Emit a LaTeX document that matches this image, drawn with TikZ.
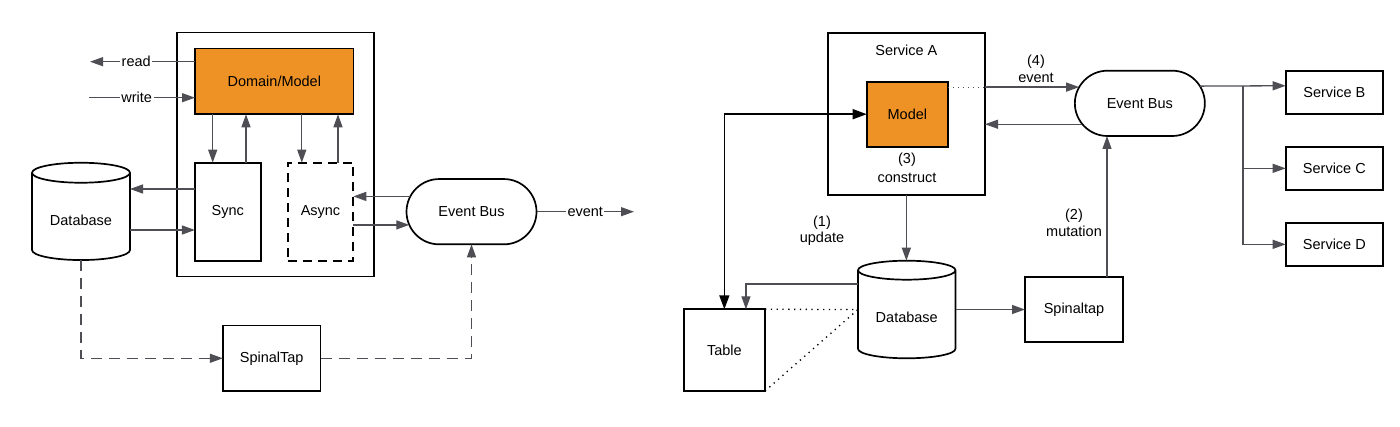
\documentclass[tikz,border=0pt]{standalone}
\usepackage{fontspec}
\setmainfont{Liberation Sans}
\usetikzlibrary{arrows.meta,positioning,shapes.misc}
\definecolor{orng}{RGB}{238,146,38}
\definecolor{lgray}{RGB}{78,78,84}

\begin{document}
\begin{tikzpicture}[x=1pt, y=-1pt, font=\fontsize{14.5}{16.5}\selectfont,
    box/.style={draw=black, line width=1.7pt, inner sep=0pt, outer sep=0pt},
    bus/.style={rounded rectangle, draw=black, line width=1.7pt, inner sep=0pt, outer sep=0pt,
      minimum width=130pt, minimum height=65.3pt},
    dbbox/.style={inner sep=0pt, outer sep=0pt},
    cyl/.style={draw=black, line width=1.7pt},
    arr/.style={draw=lgray, line width=1.3pt, -{Triangle[length=13pt,width=9pt]}},
    dasharr/.style={arr, dash pattern=on 11pt off 7pt},
    updarr/.style={draw=black, line width=1.5pt,
      {Triangle[length=14pt,width=10pt]}-{Triangle[length=14pt,width=10pt]}},
    dotline/.style={draw=lgray, line width=1pt, dash pattern=on 1pt off 4pt},
    tabdot/.style={draw=black, line width=1.3pt, dash pattern=on 1.3pt off 4.5pt},
    lbl/.style={fill=white, inner sep=1.5pt}]
\useasboundingbox (0,0) rectangle (1400,427);

% left: service with sync / async paths
    \node[box, minimum width=197pt, minimum height=244pt] (hostL) at (275.5,154.6) {};
    \node[box, fill=orng, minimum width=158.6pt, minimum height=65.8pt] (domain) at (274.3,81.4) {Domain/Model};
    \node[box, minimum width=65.7pt, minimum height=98pt] (sync) at (227.8,211.7) {Sync};
    \node[box, dash pattern=on 9pt off 6pt, minimum width=65.6pt, minimum height=98pt] (async) at (320.5,211.7) {Async};

    \node[dbbox, minimum width=98pt, minimum height=97.3pt] (dbL) at (81,211.4) {};
    \draw[cyl] ([yshift=-10pt]dbL.north west) -- ([yshift=10pt]dbL.south west)
      arc[start angle=180, end angle=360, x radius=49pt, y radius=10pt]
      -- ([yshift=-10pt]dbL.north east)
      arc[start angle=0, end angle=360, x radius=49pt, y radius=10pt];
    \node (dbLtxt) at ([yshift=-8.6pt]dbL.center) {Database};

    \node[bus] (busL) at (471.5,211.7) {Event Bus};
    \node[box, minimum width=97.7pt, minimum height=65.3pt] (tapL) at (271.7,358.3) {SpinalTap};

    \coordinate (readEnd) at (90,61.7);
    \coordinate (writeStart) at (89,97.7);
    \draw[arr] (readEnd -| domain.west) -- node[lbl, pos=0.56] (readlbl) {read} (readEnd);
    \draw[arr] (writeStart) -- node[lbl, pos=0.45] (writelbl) {write} (writeStart -| domain.west);

    \coordinate (s1) at ([xshift=-15.1pt]sync.north);
    \coordinate (s2) at ([xshift=18.2pt]sync.north);
    \coordinate (a1) at ([xshift=-18.7pt]async.north);
    \coordinate (a2) at ([xshift=17.5pt]async.north);
    \draw[arr] (s1 |- domain.south) -- (s1);
    \draw[arr] (s2) -- (s2 |- domain.south);
    \draw[arr] (a1 |- domain.south) -- (a1);
    \draw[arr] (a2) -- (a2 |- domain.south);

    \coordinate (s3) at ([yshift=22.7pt]sync.west);
    \coordinate (s4) at ([yshift=-18.3pt]sync.west);
    \draw[arr] (s3) -- (s3 -| dbL.east);
    \draw[arr] (s4 -| dbL.east) -- (s4);

    \draw[arr] (busL.166.4) -- (busL.166.4 -| async.east);
    \draw[arr] (busL.192 -| async.east) -- (busL.192);

    \coordinate (evEnd) at (634,211.7);
    \draw[arr] (busL.east) -- node[lbl] (evlblL) {event} (evEnd);

    \draw[dasharr] (dbL.south) |- (tapL.west);
    \draw[dasharr] (tapL.east) -| (busL.south);

% right: service A, table and fan-out
    \node[box, minimum width=157.3pt, minimum height=162.3pt] (svcA) at (906.35,113.85) {};
    \node (svcAtxt) at ([yshift=-17.3pt]svcA.north) {Service A};
    \node[box, fill=orng, minimum width=81.3pt, minimum height=65pt] (model) at (907.35,114.2) {Model};
    \node[align=center] (lbl3) at (907,167.5) {(3)\\[2.5pt]construct};

    \node[bus] (busR) at (1139.85,103.35) {Event Bus};
    \node[box, minimum width=97.3pt, minimum height=43pt] (svcB) at (1334.35,92.35) {Service B};
    \node[box, minimum width=97.3pt, minimum height=43pt, below=33pt of svcB] (svcC) {Service C};
    \node[box, minimum width=97.3pt, minimum height=43pt, below=33pt of svcC] (svcD) {Service D};

    \node[dbbox, minimum width=97.5pt, minimum height=97.6pt] (dbR) at (906.75,309.5) {};
    \draw[cyl] ([yshift=-9.5pt]dbR.north west) -- ([yshift=9.5pt]dbR.south west)
      arc[start angle=180, end angle=360, x radius=48.75pt, y radius=9.5pt]
      -- ([yshift=-9.5pt]dbR.north east)
      arc[start angle=0, end angle=360, x radius=48.75pt, y radius=9.5pt];
    \node (dbRtxt) at ([yshift=-7.8pt]dbR.center) {Database};

    \node[box, minimum width=98pt, minimum height=65.3pt] (tapR) at (1074,309.35) {Spinaltap};
    \node[box, minimum width=81.3pt, minimum height=81.7pt] (table) at (724.35,350.15) {Table};

    \node[align=center] (lbl1) at (822,231) {(1)\\update};
    \node[align=center] (lbl2) at (1074,223) {(2)\\mutation};
    \node[align=center] (lbl4) at (1036,69) {(4)\\event};

    \coordinate (ev) at (busR.165.2);
    \draw[dotline] (ev -| model.east) -- (ev -| svcA.east);
    \draw[arr] (ev -| svcA.east) -- (ev);
    \draw[arr] (busR.200.9) -- (busR.200.9 -| svcA.east);

    \coordinate (br) at ([yshift=6.6pt]svcB.west);
    \coordinate (fork) at (1243,85.7);
    \draw[arr] (busR.16.4) -- (br);
    \draw[arr] (fork) |- (svcC.west);
    \draw[arr] (fork) |- (svcD.west);

    \draw[arr] (svcA.south) -- (svcA.south |- dbR.north);
    \draw[arr] (dbR.east) -- (dbR.east -| tapR.west);
    \coordinate (t1) at ([xshift=33pt]tapR.north);
    \draw[arr] (t1) -- (t1 |- busR.south);

    \draw[updarr] (model.west) -| (table.north);
    \coordinate (d1) at ([yshift=25.5pt]dbR.west);
    \coordinate (t2) at ([xshift=21.6pt]table.north);
    \draw[arr] (d1) -| (t2);
    \draw[tabdot] (table.north east) -- (dbR.west);
    \draw[tabdot] (table.south east) -- (dbR.west);

\end{tikzpicture}
\end{document}
